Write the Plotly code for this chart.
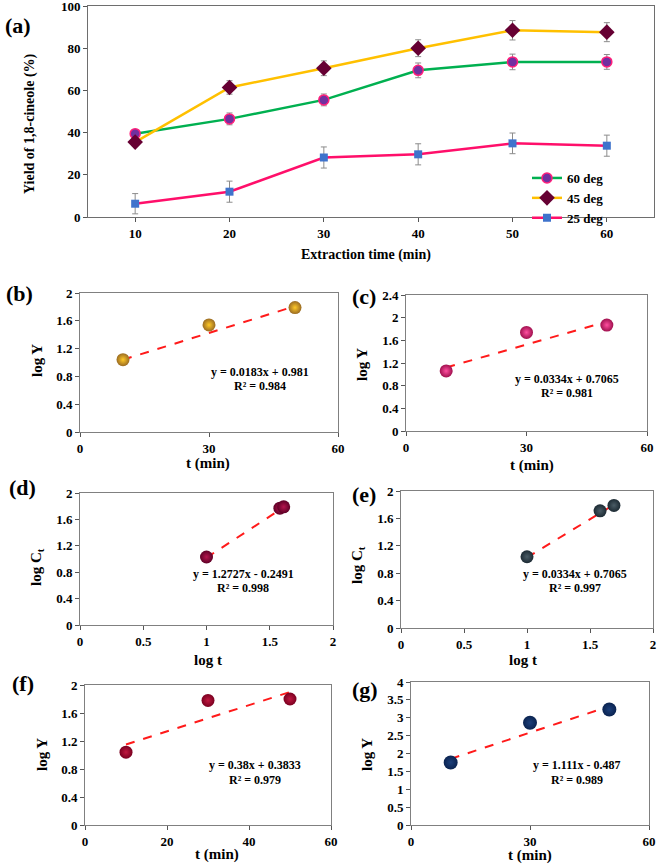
import plotly.graph_objects as go

W, H = 661, 865

# ---------------- data ----------------
# (a) yield vs extraction time
time_min = [10, 20, 30, 40, 50, 60]
yield_60 = [39.5, 46.5, 55.5, 69.5, 73.5, 73.5]
err_60 = [2.0, 2.8, 2.8, 3.5, 3.7, 3.5]
yield_45 = [35.5, 61.4, 70.5, 80.0, 88.5, 87.6]
err_45 = [2.0, 3.2, 3.5, 4.0, 4.6, 4.5]
yield_25 = [6.3, 12.0, 28.2, 29.7, 34.9, 33.8]
err_25 = [4.8, 5.0, 5.0, 5.0, 4.9, 5.0]
legend_names = ["60 deg", "45 deg", "25 deg"]

# (b)
b_x = [10, 30, 50]
b_y = [1.04, 1.54, 1.79]
b_fit_x = [10, 50]
b_fit_y = [1.04, 1.81]
b_eq = ["y = 0.0183x + 0.981", "R² = 0.984"]
# (c)
c_x = [10, 30, 50]
c_y = [1.06, 1.74, 1.87]
c_fit_x = [10, 50]
c_fit_y = [1.12, 1.93]
c_eq = ["y = 0.0334x + 0.7065", "R² = 0.981"]
# (d)
d_x = [1.0, 1.58, 1.61]
d_y = [1.03, 1.77, 1.79]
d_fit_x = [1.0, 1.6]
d_fit_y = [1.02, 1.77]
d_eq = ["y = 1.2727x - 0.2491", "R² = 0.998"]
# (e)
e_x = [1.0, 1.58, 1.69]
e_y = [1.04, 1.71, 1.79]
e_fit_x = [1.0, 1.69]
e_fit_y = [1.03, 1.80]
e_eq = ["y = 0.0334x + 0.7065", "R² = 0.997"]
# (f)
f_x = [10, 30, 50]
f_y = [1.04, 1.78, 1.80]
f_fit_x = [10, 50]
f_fit_y = [1.15, 1.90]
f_eq = ["y = 0.38x + 0.3833", "R² = 0.979"]
# (g)
g_x = [10, 30, 50]
g_y = [1.75, 2.86, 3.23]
g_fit_x = [10, 50]
g_fit_y = [1.85, 3.32]
g_eq = ["y = 1.111x - 0.487", "R² = 0.989"]

FONT = "Liberation Serif, Times New Roman, DejaVu Serif, serif"


def px(x):
    return x / W


def py(y):
    return 1 - y / H


fig = go.Figure()

# ---------------- panel (a) ----------------
fig.add_trace(go.Scatter(
    x=time_min, y=yield_60, name=legend_names[0], mode="lines+markers",
    line=dict(color="#00B050", width=2.5),
    marker=dict(symbol="circle", size=10, color="#7030A0",
                line=dict(color="#FF1F7A", width=1.5)),
    error_y=dict(type="data", array=err_60, color="#8C8C8C", thickness=1, width=3),
    xaxis="x", yaxis="y"))
fig.add_trace(go.Scatter(
    x=time_min, y=yield_45, name=legend_names[1], mode="lines+markers",
    line=dict(color="#FFC000", width=2.5),
    marker=dict(symbol="diamond", size=12, color="#660033"),
    error_y=dict(type="data", array=err_45, color="#8C8C8C", thickness=1, width=3),
    xaxis="x", yaxis="y"))
fig.add_trace(go.Scatter(
    x=time_min, y=yield_25, name=legend_names[2], mode="lines+markers",
    line=dict(color="#FF0F6A", width=2.5),
    marker=dict(symbol="square", size=8, color="#3F73CC"),
    error_y=dict(type="data", array=err_25, color="#8C8C8C", thickness=1, width=3),
    xaxis="x", yaxis="y"))


def scatter_panel(ax, xs, ys, fx, fy, edge, center, size=13):
    fig.add_trace(go.Scatter(
        x=fx, y=fy, mode="lines", showlegend=False,
        line=dict(color="#FF1A1A", width=2, dash="dash"),
        xaxis="x" + ax, yaxis="y" + ax))
    fig.add_trace(go.Scatter(
        x=xs, y=ys, mode="markers", showlegend=False,
        marker=dict(size=size, color=edge,
                    gradient=dict(type="radial", color=center),
                    line=dict(width=0)),
        xaxis="x" + ax, yaxis="y" + ax))


scatter_panel("2", b_x, b_y, b_fit_x, b_fit_y, "#9A6B22", "#FFC928")
scatter_panel("3", c_x, c_y, c_fit_x, c_fit_y, "#A0104E", "#FF4FA0", 13)
scatter_panel("4", d_x, d_y, d_fit_x, d_fit_y, "#5E0026", "#B5154E")
scatter_panel("5", e_x, e_y, e_fit_x, e_fit_y, "#1C2A33", "#4A5C66")
scatter_panel("6", f_x, f_y, f_fit_x, f_fit_y, "#7A0020", "#C01840")
scatter_panel("7", g_x, g_y, g_fit_x, g_fit_y, "#0A2350", "#1C3F7A", 14)

tickfont = dict(family=FONT, size=13, color="#000000", weight="bold")


def axis_pair(n, xdom, ydom, xr, xd, yr, yd, lc="#808080"):
    xk = "xaxis" if n == "" else "xaxis" + n
    yk = "yaxis" if n == "" else "yaxis" + n
    common = dict(showline=True, linecolor=lc, linewidth=1, mirror=True,
                  showgrid=False, zeroline=False, ticks="outside", ticklen=4,
                  tickcolor="#555555", tickfont=tickfont, automargin=False,
                  ticklabeloverflow="allow")
    fig.update_layout(**{
        xk: dict(domain=xdom, range=xr, dtick=xd, tick0=0,
                 anchor="y" + n, **common),
        yk: dict(domain=ydom, range=yr, dtick=yd, tick0=0,
                 anchor="x" + n, **common),
    })


axis_pair("", [px(88), px(654)], [py(217), py(6)], [5, 65], 10, [0, 100], 20, "#6E6E6E")
axis_pair("2", [px(80), px(338)], [py(432), py(293)], [0, 60], 30, [0, 2], 0.4)
axis_pair("3", [px(406), px(647)], [py(431), py(295)], [0, 60], 30, [0, 2.4], 0.4)
axis_pair("4", [px(80), px(333)], [py(625), py(493)], [0, 2], 0.5, [0, 2], 0.4)
axis_pair("5", [px(401), px(653)], [py(628), py(491)], [0, 2], 0.5, [0, 2], 0.4)
axis_pair("6", [px(85), px(331)], [py(825), py(685)], [0, 60], 20, [0, 2], 0.4)
axis_pair("7", [px(411), px(649)], [py(825), py(682)], [0, 60], 30, [0, 4], 0.5)

ann = []


def text(x, y, s, size=13, angle=0):
    ann.append(dict(x=px(x), y=py(y), xref="paper", yref="paper", text="<b>" + s + "</b>",
                    showarrow=False, textangle=angle, xanchor="center", yanchor="middle",
                    font=dict(family=FONT, size=size, color="#000000")))


# panel labels
for lab, x, y in [("(a)", 18, 25), ("(b)", 19, 293), ("(c)", 364, 296), ("(d)", 22, 487),
                  ("(e)", 364, 494), ("(f)", 23, 683), ("(g)", 365, 689)]:
    text(x, y, lab, size=22)

# axis titles
text(30, 124, "Yield of 1,8-cineole (%)", size=14, angle=-90)
text(366, 255, "Extraction time (min)", size=14)
text(37, 361, "log Y", size=15, angle=-90)
text(362, 365, "log Y", size=15, angle=-90)
text(37, 567, "log C<sub>t</sub>", size=15, angle=-90)
text(358, 565, "log C<sub>t</sub>", size=15, angle=-90)
text(42, 755, "log Y", size=15, angle=-90)
text(367, 755, "log Y", size=15, angle=-90)
text(208, 463, "t (min)", size=15)
text(532, 465, "t (min)", size=15)
text(208, 660, "log t", size=15)
text(523, 660, "log t", size=15)
text(217, 854, "t (min)", size=15)
text(530, 855, "t (min)", size=15)

# equations
for eq, x, y1, y2 in [(b_eq, 260, 372, 386), (c_eq, 567, 379, 393), (d_eq, 243, 574, 588),
                      (e_eq, 575, 574, 588), (f_eq, 255, 765, 780), (g_eq, 577, 765, 780)]:
    text(x, y1, eq[0], size=12)
    text(x, y2, eq[1], size=12)

fig.update_layout(
    width=W, height=H,
    margin=dict(l=0, r=0, t=0, b=0, autoexpand=False),
    paper_bgcolor="white", plot_bgcolor="white",
    font=dict(family=FONT, color="#000000"),
    annotations=ann,
    legend=dict(x=px(527), y=py(163), xanchor="left", yanchor="top",
                bgcolor="rgba(0,0,0,0)", tracegroupgap=0,
                font=dict(family=FONT, size=13, weight="bold", color="#000000"),
                itemwidth=30),
)

fig.write_html(
    "out.html",
    config={"displayModeBar": False},
    post_script="document.body.style.margin='0px';document.body.style.overflow='hidden';",
)
